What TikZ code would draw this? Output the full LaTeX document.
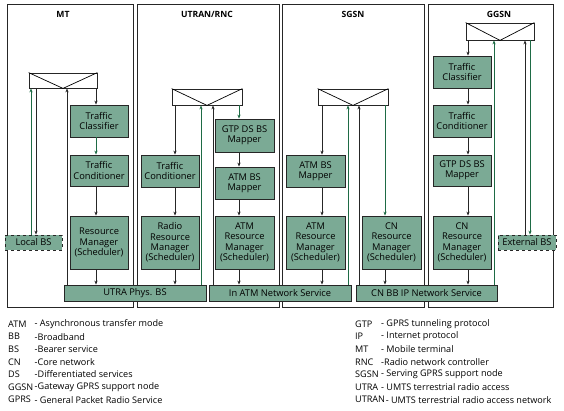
\documentclass[tikz,border=0pt]{standalone}
\usepackage{fontspec}
\setmainfont{Open Sans}
\usetikzlibrary{arrows.meta}
\definecolor{boxfill}{HTML}{7BAA95}
\definecolor{dgreen}{HTML}{1E6B45}
\begin{document}
\begin{tikzpicture}[x=1pt,y=-1pt,
  frame/.style={draw=black!85,line width=0.8pt},
  blk/.style={draw=black!85,line width=0.8pt,fill=boxfill,inner sep=0pt,align=center,font=\fontsize{9.3}{10.3}\selectfont},
  dbox/.style={blk,dashed},
  sw/.style={draw=black!85,line width=0.8pt,fill=white,inner sep=0pt},
  ttl/.style={font=\bfseries\fontsize{8.6}{9}\selectfont},
  arr/.style={draw=black!85,line width=0.7pt,-{Stealth[length=4pt,width=3.2pt]}},
  garr/.style={arr,draw=dgreen},
  lg/.style={anchor=west,inner sep=0pt,font=\fontsize{9.1}{10}\selectfont}]
\useasboundingbox (0,0) rectangle (564,410);
% frames
\draw[frame] (7,4) rectangle (133,307);
\draw[frame] (137,4) rectangle (279,307);
\draw[frame] (282,4) rectangle (424,307);
\draw[frame] (428,4) rectangle (553,307);
\node[ttl] (tMT) at (63,14) {MT};
\node[ttl] (tUT) at (207,14) {UTRAN/RNC};
\node[ttl] (tSG) at (353,14) {SGSN};
\node[ttl] (tGG) at (499,14) {GGSN};
% switches
\node[sw,minimum width=68pt,minimum height=15pt] (sw1) at (63,80.5) {};
\node[sw,minimum width=70pt,minimum height=16pt] (sw2) at (207,97) {};
\node[sw,minimum width=70pt,minimum height=16pt] (sw3) at (353,97) {};
\node[sw,minimum width=68pt,minimum height=17pt] (sw4) at (500,31.5) {};
\foreach \s in {sw1,sw2,sw3,sw4}{
  \draw[line width=0.7pt] (\s.north west) -- (\s.south) -- (\s.north east);
}
% MT boxes
\node[blk,minimum width=58pt,minimum height=32pt] (tc1) at (99,121) {Traffic\\Classifier};
\node[blk,minimum width=58pt,minimum height=31pt] (tcon1) at (99,170.5) {Traffic\\Conditioner};
\node[blk,minimum width=58pt,minimum height=53pt] (rm1) at (99,242.5) {Resource\\Manager\\(Scheduler)};
\node[dbox,minimum width=57pt,minimum height=15pt] (loc) at (33.5,242.5) {Local BS};
% UTRAN boxes
\node[blk,minimum width=58pt,minimum height=32pt] (tcon2) at (170,171) {Traffic\\Conditioner};
\node[blk,minimum width=58pt,minimum height=53pt] (rrm2) at (170,242.5) {Radio\\Resource\\Manager\\(Scheduler)};
\node[blk,minimum width=59pt,minimum height=33pt] (gtp2) at (244.5,135.5) {GTP DS BS\\Mapper};
\node[blk,minimum width=59pt,minimum height=32pt] (atmm2) at (244.5,183) {ATM BS\\Mapper};
\node[blk,minimum width=59pt,minimum height=53pt] (atmrm2) at (244.5,242.5) {ATM\\Resource\\Manager\\(Scheduler)};
% SGSN boxes
\node[blk,minimum width=59pt,minimum height=32pt] (atmm3) at (315.5,171) {ATM BS\\Mapper};
\node[blk,minimum width=59pt,minimum height=53pt] (atmrm3) at (315.5,242.5) {ATM\\Resource\\Manager\\(Scheduler)};
\node[blk,minimum width=59pt,minimum height=53pt] (cnrm3) at (391.5,242.5) {CN\\Resource\\Manager\\(Scheduler)};
% GGSN boxes
\node[blk,minimum width=58pt,minimum height=32pt] (tc4) at (462,72) {Traffic\\Classifier};
\node[blk,minimum width=58pt,minimum height=32pt] (tcon4) at (462,121) {Traffic\\Conditioner};
\node[blk,minimum width=58pt,minimum height=31pt] (gtp4) at (462,170.5) {GTP DS BS\\Mapper};
\node[blk,minimum width=58pt,minimum height=53pt] (cnrm4) at (462,242.5) {CN\\Resource\\Manager\\(Scheduler)};
\node[dbox,minimum width=58pt,minimum height=15pt] (ext) at (527,242.5) {External BS};
% bars
\node[blk,minimum width=142pt,minimum height=16pt] (bar1) at (135,293) {UTRA Phys. BS};
\node[blk,minimum width=142pt,minimum height=16pt] (bar2) at (280,293) {In ATM Network Service};
\node[blk,minimum width=141pt,minimum height=16pt] (bar3) at (426.5,293) {CN BB IP Network Service};
% column coordinates
\foreach \n/\v in {a/31,b/36,c/67,d/96,e/175,f/201,g/213,h/239,i/322,j/348,k/359,l/385,m/468,n/494,o/525,p/530}{
  \coordinate (x\n) at (\v,0);
}
% MT arrows
\draw[garr] (loc.north -| xa) -- (sw1.south -| xa);
\draw[arr] (sw1.south -| xb) -- (loc.north -| xb);
\draw[arr] (bar1.north -| xc) -- (sw1.south -| xc);
\draw[arr] (sw1.south -| xd) -- (tc1.north -| xd);
\draw[garr] (tc1.south -| xd) -- (tcon1.north -| xd);
\draw[arr] (tcon1.south -| xd) -- (rm1.north -| xd);
\draw[arr] (rm1.south -| xd) -- (bar1.north -| xd);
% UTRAN arrows
\draw[arr] (sw2.south -| xe) -- (tcon2.north -| xe);
\draw[arr] (tcon2.south -| xe) -- (rrm2.north -| xe);
\draw[arr] (rrm2.south -| xe) -- (bar1.north -| xe);
\draw[garr] (bar1.north -| xf) -- (sw2.south -| xf);
\draw[arr] (bar2.north -| xg) -- (sw2.south -| xg);
\draw[garr] (sw2.south -| xh) -- (gtp2.north -| xh);
\draw[arr] (gtp2.south -| xh) -- (atmm2.north -| xh);
\draw[arr] (atmm2.south -| xh) -- (atmrm2.north -| xh);
\draw[arr] (atmrm2.south -| xh) -- (bar2.north -| xh);
% SGSN arrows
\draw[arr] (sw3.south -| xi) -- (atmm3.north -| xi);
\draw[arr] (atmm3.south -| xi) -- (atmrm3.north -| xi);
\draw[arr] (atmrm3.south -| xi) -- (bar2.north -| xi);
\draw[garr] (bar2.north -| xj) -- (sw3.south -| xj);
\draw[arr] (bar3.north -| xk) -- (sw3.south -| xk);
\draw[garr] (sw3.south -| xl) -- (cnrm3.north -| xl);
\draw[arr] (cnrm3.south -| xl) -- (bar3.north -| xl);
% GGSN arrows
\draw[arr] (sw4.south -| xm) -- (tc4.north -| xm);
\draw[arr] (tc4.south -| xm) -- (tcon4.north -| xm);
\draw[arr] (tcon4.south -| xm) -- (gtp4.north -| xm);
\draw[arr] (gtp4.south -| xm) -- (cnrm4.north -| xm);
\draw[arr] (cnrm4.south -| xm) -- (bar3.north -| xm);
\draw[garr] (bar3.north -| xn) -- (sw4.south -| xn);
\draw[arr] (ext.north -| xo) -- (sw4.south -| xo);
\draw[garr] (sw4.south -| xp) -- (ext.north -| xp);
% legend left
\foreach \k/\t [count=\i from 0] in {ATM/- Asynchronous transfer mode,BB/-Broadband,BS/-Bearer service,CN/-Core network,DS/-Differentiated services,GGSN/-Gateway GPRS support node,GPRS/- General Packet Radio Service}{
  \node[lg] (la\i) at (8,324+12.6*\i) {\k};
  \node[lg] (lb\i) at (34.5,324+12.6*\i) {\t};
}
% legend right
\foreach \k/\t [count=\i from 0] in {GTP/- GPRS tunneling protocol,IP/- Internet protocol,MT/- Mobile terminal,RNC/-Radio network controller,SGSN/- Serving GPRS support node,UTRA/- UMTS terrestrial radio access}{
  \node[lg] (ra\i) at (355,324+12.6*\i) {\k};
  \node[lg] (rb\i) at (381,324+12.6*\i) {\t};
}
\node[lg] (ra6) at (355,399.6) {UTRAN};
\node[lg] (rb6) at ([xshift=0.3pt]ra6.east) {- UMTS terrestrial radio access network};
\end{tikzpicture}
\end{document}
